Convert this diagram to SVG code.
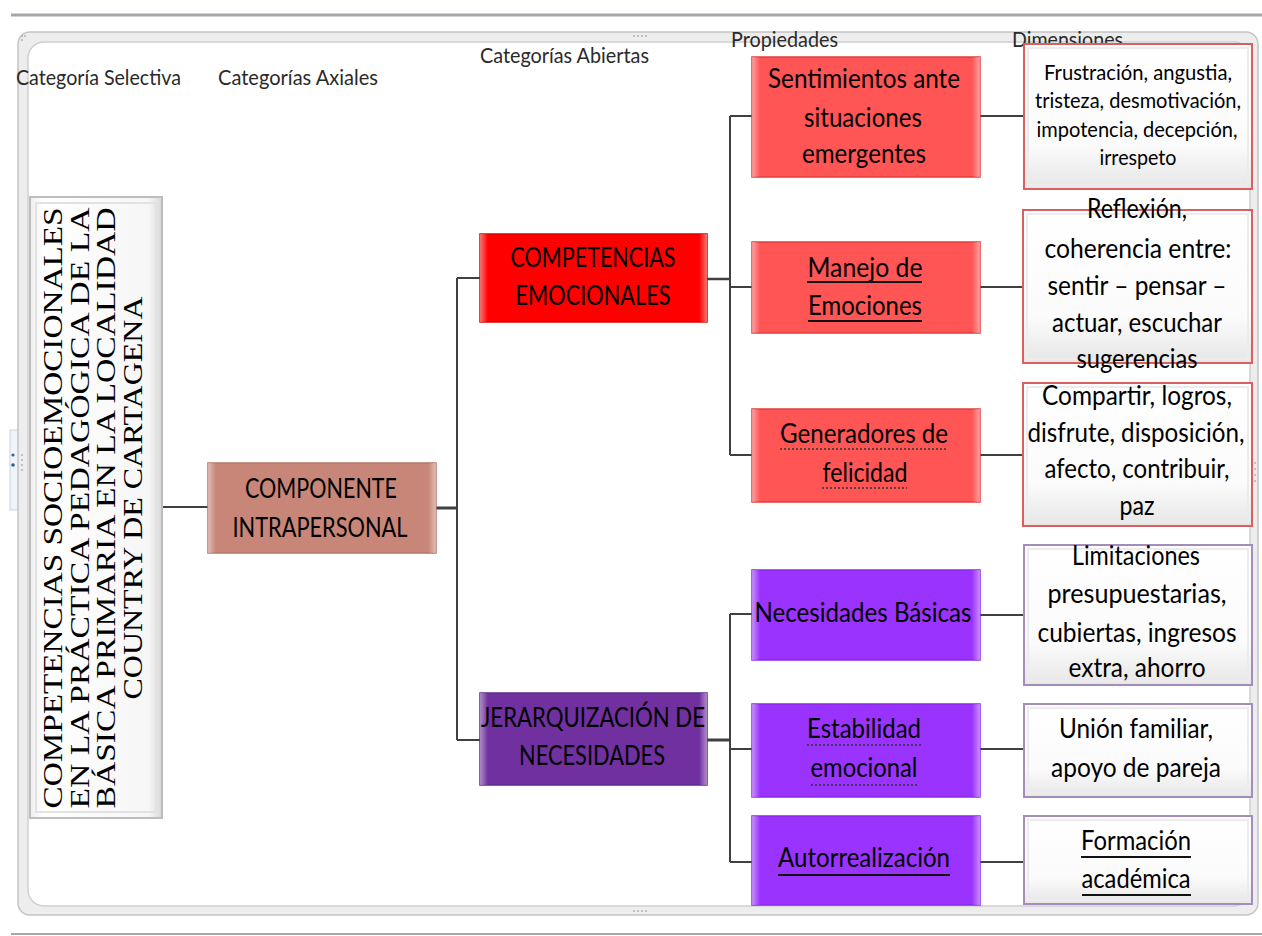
<svg xmlns="http://www.w3.org/2000/svg" width="1262" height="936" viewBox="0 0 1262 936">
<style>
.hdr{font-family:Lato,"Liberation Sans",sans-serif;font-size:22px;fill:#2a2a2a}
.t{font-family:Lato,"Liberation Sans",sans-serif;font-size:26px;fill:#000;text-anchor:middle}
.ts{font-size:21px}
.v{font-family:"Liberation Serif","Times New Roman",serif;font-size:27px;fill:#000;text-anchor:middle}
.conn{stroke:#404040;stroke-width:2;fill:none}
.ul{stroke:#111;stroke-width:2}
.dul{stroke:#333;stroke-width:1.5;stroke-dasharray:2 2}
.bev{fill:url(#bevH)}
.dimR{fill:url(#dimFill);stroke:#d9605e;stroke-width:2}
.dimP{fill:url(#dimFill);stroke:#a48cbd;stroke-width:2}
.inner{fill:none;stroke:#ececec;stroke-width:2}
</style>
<defs>
<linearGradient id="bevH" x1="0" y1="0" x2="1" y2="0">
<stop offset="0" stop-color="#fff" stop-opacity="0.45"/>
<stop offset="0.035" stop-color="#fff" stop-opacity="0"/>
<stop offset="0.965" stop-color="#fff" stop-opacity="0"/>
<stop offset="1" stop-color="#fff" stop-opacity="0.45"/>
</linearGradient>
<linearGradient id="dimFill" x1="0" y1="0" x2="0" y2="1">
<stop offset="0" stop-color="#ffffff"/>
<stop offset="0.7" stop-color="#fbfbfb"/>
<stop offset="1" stop-color="#e6e6e6"/>
</linearGradient>
<linearGradient id="vFill" x1="0" y1="0" x2="1" y2="0">
<stop offset="0" stop-color="#eeeeee"/>
<stop offset="0.1" stop-color="#ffffff"/>
<stop offset="0.9" stop-color="#f6f6f6"/>
<stop offset="1" stop-color="#d8d8d8"/>
</linearGradient>
</defs>

<!-- page lines -->
<line x1="11" y1="15" x2="1262" y2="15" stroke="#a4a8ad" stroke-width="3"/>
<line x1="11" y1="934" x2="1262" y2="934" stroke="#a4a8ad" stroke-width="2"/>

<!-- left tab -->
<rect x="10" y="430" width="16" height="80" fill="#eef4fa" stroke="#c8d4e0"/>
<circle cx="13" cy="455" r="1.6" fill="#2f5f9f"/>
<circle cx="13" cy="465" r="1.8" fill="#2f5f9f"/>

<!-- frame -->
<rect x="18" y="32" width="1240" height="883" rx="12" fill="#ededed" stroke="#c4c4c4" stroke-width="1.5"/>
<rect x="28" y="42" width="1222" height="864" rx="16" fill="#ffffff" stroke="#cfcfcf" stroke-width="1.5"/>
<g fill="#b0b0b0">
<circle cx="634" cy="36" r="1"/><circle cx="638" cy="36" r="1"/><circle cx="642" cy="36" r="1"/><circle cx="646" cy="36" r="1"/>
<circle cx="634" cy="911" r="1"/><circle cx="638" cy="911" r="1"/><circle cx="642" cy="911" r="1"/><circle cx="646" cy="911" r="1"/>
<circle cx="1255" cy="463" r="1"/><circle cx="1255" cy="469" r="1"/><circle cx="1255" cy="475" r="1"/><circle cx="1255" cy="481" r="1"/>
<circle cx="22" cy="455" r="1"/><circle cx="22" cy="460" r="1"/><circle cx="22" cy="465" r="1"/><circle cx="22" cy="470" r="1"/>
<circle cx="22" cy="36" r="1"/><circle cx="25" cy="36" r="1"/><circle cx="22" cy="40" r="1"/>
</g>

<!-- headers -->
<g id="headers">
<text class="hdr" x="16" y="85" textLength="165" lengthAdjust="spacingAndGlyphs">Categoría Selectiva</text>
<text class="hdr" x="218" y="85" textLength="160" lengthAdjust="spacingAndGlyphs">Categorías Axiales</text>
<text class="hdr" x="480" y="63" textLength="169" lengthAdjust="spacingAndGlyphs">Categorías Abiertas</text>
<text class="hdr" x="731" y="47" textLength="107" lengthAdjust="spacingAndGlyphs">Propiedades</text>
<text class="hdr" x="1012" y="47" textLength="111" lengthAdjust="spacingAndGlyphs">Dimensiones</text>
</g>

<!-- connectors -->
<g id="connectors" class="conn">
<path d="M162 507 H208"/>
<path d="M436 508 H457" stroke-width="3"/>
<path d="M457 278 V740 M457 278 H480 M457 740 H480"/>
<path d="M707 279 H730" stroke-width="2.5"/>
<path d="M730 116 V455 M730 116 H752 M730 287 H752 M730 455 H752"/>
<path d="M707 740 H730" stroke-width="3"/>
<path d="M730 614 V862 M730 614 H752 M730 749 H752 M730 862 H752"/>
<path d="M980 116 H1023 M980 287 H1023 M980 455 H1023 M980 615 H1024 M980 749 H1024 M980 862 H1024"/>
</g>

<!-- selective category -->
<g id="n-selectiva">
<rect x="30" y="197" width="132" height="621" fill="url(#vFill)" stroke="#bdbdbd" stroke-width="2"/>
<rect x="36" y="203" width="120" height="609" fill="none" stroke="#e2e2e2" stroke-width="2"/>
<text class="v" transform="translate(62,508) rotate(-90)" textLength="601" lengthAdjust="spacingAndGlyphs">COMPETENCIAS  SOCIOEMOCIONALES</text>
<text class="v" transform="translate(89,508) rotate(-90)" textLength="601" lengthAdjust="spacingAndGlyphs">EN LA PRÁCTICA PEDAGÓGICA  DE LA</text>
<text class="v" transform="translate(115,508) rotate(-90)" textLength="601" lengthAdjust="spacingAndGlyphs">BÁSICA PRIMARIA EN LA LOCALIDAD</text>
<text class="v" transform="translate(142,498) rotate(-90)" textLength="403" lengthAdjust="spacingAndGlyphs">COUNTRY DE CARTAGENA</text>
</g>

<!-- axial -->
<g id="n-componente">
<rect x="208" y="463" width="228" height="90" fill="#c88678" stroke="#b57668" stroke-width="1.5"/>
<rect x="208" y="463" width="228" height="90" class="bev"/>
<text class="t" x="321" y="498" textLength="152" lengthAdjust="spacingAndGlyphs">COMPONENTE</text>
<text class="t" x="320" y="537" textLength="175" lengthAdjust="spacingAndGlyphs">INTRAPERSONAL</text>
</g>

<!-- open categories -->
<g id="n-competencias">
<rect x="480" y="234" width="227" height="88" fill="#ff0000" stroke="#e00000" stroke-width="1.5"/>
<rect x="480" y="234" width="227" height="88" class="bev"/>
<text class="t" x="593" y="267" textLength="165" lengthAdjust="spacingAndGlyphs">COMPETENCIAS</text>
<text class="t" x="593" y="305" textLength="155" lengthAdjust="spacingAndGlyphs">EMOCIONALES</text>
</g>
<g id="n-jerarquizacion">
<rect x="480" y="693" width="227" height="92" fill="#7030a0" stroke="#60288c" stroke-width="1.5"/>
<rect x="480" y="693" width="227" height="92" class="bev"/>
<text class="t" x="593" y="727" textLength="224" lengthAdjust="spacingAndGlyphs">JERARQUIZACIÓN DE</text>
<text class="t" x="592" y="765" textLength="146" lengthAdjust="spacingAndGlyphs">NECESIDADES</text>
</g>

<!-- properties (red) -->
<g id="n-sentimientos">
<rect x="752" y="57" width="228" height="120" fill="#ff5555" stroke="#e03c3c" stroke-width="1.5"/>
<rect x="752" y="57" width="228" height="120" class="bev"/>
<text class="t" x="864" y="88" textLength="192" lengthAdjust="spacingAndGlyphs">Sentimientos  ante</text>
<text class="t" x="863" y="127" textLength="118" lengthAdjust="spacingAndGlyphs">situaciones</text>
<text class="t" x="864" y="163" textLength="124" lengthAdjust="spacingAndGlyphs">emergentes</text>
</g>
<g id="n-manejo">
<rect x="752" y="242" width="228" height="91" fill="#ff5555" stroke="#e03c3c" stroke-width="1.5"/>
<rect x="752" y="242" width="228" height="91" class="bev"/>
<text class="t" x="865" y="277" textLength="115" lengthAdjust="spacingAndGlyphs">Manejo de</text>
<text class="t" x="865" y="315" textLength="114" lengthAdjust="spacingAndGlyphs">Emociones</text>
<line class="ul" x1="807" y1="282" x2="922" y2="282"/>
<line class="ul" x1="808" y1="321" x2="922" y2="321"/>
</g>
<g id="n-generadores">
<rect x="752" y="409" width="228" height="93" fill="#ff5555" stroke="#e03c3c" stroke-width="1.5"/>
<rect x="752" y="409" width="228" height="93" class="bev"/>
<text class="t" x="864" y="443" textLength="168" lengthAdjust="spacingAndGlyphs">Generadores de</text>
<text class="t" x="865" y="482" textLength="85" lengthAdjust="spacingAndGlyphs">felicidad</text>
<line class="dul" x1="780" y1="449" x2="948" y2="449"/>
<line class="dul" x1="822" y1="488" x2="907" y2="488"/>
</g>

<!-- properties (purple) -->
<g id="n-necesidades">
<rect x="752" y="570" width="228" height="90" fill="#9b33ff" stroke="#8a2ae6" stroke-width="1.5"/>
<rect x="752" y="570" width="228" height="90" class="bev"/>
<text class="t" x="863" y="622" textLength="217" lengthAdjust="spacingAndGlyphs">Necesidades  Básicas</text>
</g>
<g id="n-estabilidad">
<rect x="752" y="704" width="228" height="93" fill="#9b33ff" stroke="#8a2ae6" stroke-width="1.5"/>
<rect x="752" y="704" width="228" height="93" class="bev"/>
<text class="t" x="864" y="738" textLength="114" lengthAdjust="spacingAndGlyphs">Estabilidad</text>
<text class="t" x="864" y="777" textLength="107" lengthAdjust="spacingAndGlyphs">emocional</text>
<line class="dul" x1="807" y1="745" x2="921" y2="745"/>
<line class="dul" x1="811" y1="785" x2="918" y2="785"/>
</g>
<g id="n-autorrealizacion">
<rect x="752" y="816" width="228" height="89" fill="#9b33ff" stroke="#8a2ae6" stroke-width="1.5"/>
<rect x="752" y="816" width="228" height="89" class="bev"/>
<text class="t" x="864" y="867" textLength="172" lengthAdjust="spacingAndGlyphs">Autorrealización</text>
<line class="ul" x1="778" y1="875" x2="950" y2="875"/>
</g>

<!-- dimensions -->
<g id="d-frustracion">
<rect class="dimR" x="1024" y="44" width="228" height="145"/>
<rect class="inner" x="1028" y="48" width="220" height="137"/>
<text class="t ts" x="1138" y="80" textLength="188" lengthAdjust="spacingAndGlyphs">Frustración, angustia,</text>
<text class="t ts" x="1138" y="108" textLength="206" lengthAdjust="spacingAndGlyphs">tristeza, desmotivación,</text>
<text class="t ts" x="1137" y="137" textLength="201" lengthAdjust="spacingAndGlyphs">impotencia, decepción,</text>
<text class="t ts" x="1138" y="165" textLength="77" lengthAdjust="spacingAndGlyphs">irrespeto</text>
</g>
<g id="d-reflexion">
<rect class="dimR" x="1023" y="210" width="229" height="153"/>
<rect class="inner" x="1027" y="214" width="221" height="145"/>
<text class="t" x="1137" y="218" textLength="100" lengthAdjust="spacingAndGlyphs">Reflexión,</text>
<text class="t" x="1138" y="258" textLength="187" lengthAdjust="spacingAndGlyphs">coherencia  entre:</text>
<text class="t" x="1137" y="295" textLength="179" lengthAdjust="spacingAndGlyphs">sentir – pensar –</text>
<text class="t" x="1137" y="332" textLength="170" lengthAdjust="spacingAndGlyphs">actuar, escuchar</text>
<text class="t" x="1137" y="368" textLength="121" lengthAdjust="spacingAndGlyphs">sugerencias</text>
</g>
<g id="d-compartir">
<rect class="dimR" x="1023" y="383" width="229" height="143"/>
<rect class="inner" x="1027" y="387" width="221" height="135"/>
<text class="t" x="1137" y="405" textLength="190" lengthAdjust="spacingAndGlyphs">Compartir, logros,</text>
<text class="t" x="1136" y="442" textLength="217" lengthAdjust="spacingAndGlyphs">disfrute, disposición,</text>
<text class="t" x="1137" y="478" textLength="185" lengthAdjust="spacingAndGlyphs">afecto, contribuir,</text>
<text class="t" x="1137" y="515" textLength="35" lengthAdjust="spacingAndGlyphs">paz</text>
</g>
<g id="d-limitaciones">
<rect class="dimP" x="1024" y="545" width="228" height="140"/>
<rect class="inner" x="1028" y="549" width="220" height="132"/>
<text class="t" x="1136" y="565" textLength="128" lengthAdjust="spacingAndGlyphs">Limitaciones</text>
<text class="t" x="1137" y="603" textLength="179" lengthAdjust="spacingAndGlyphs">presupuestarias,</text>
<text class="t" x="1137" y="642" textLength="199" lengthAdjust="spacingAndGlyphs">cubiertas, ingresos</text>
<text class="t" x="1137" y="677" textLength="137" lengthAdjust="spacingAndGlyphs">extra, ahorro</text>
</g>
<g id="d-union">
<rect class="dimP" x="1024" y="704" width="228" height="93"/>
<rect class="inner" x="1028" y="708" width="220" height="85"/>
<text class="t" x="1136" y="738" textLength="154" lengthAdjust="spacingAndGlyphs">Unión familiar,</text>
<text class="t" x="1136" y="777" textLength="170" lengthAdjust="spacingAndGlyphs">apoyo de pareja</text>
</g>
<g id="d-formacion">
<rect class="dimP" x="1024" y="816" width="228" height="88"/>
<rect class="inner" x="1028" y="820" width="220" height="80"/>
<text class="t" x="1136" y="850" textLength="110" lengthAdjust="spacingAndGlyphs">Formación</text>
<text class="t" x="1136" y="888" textLength="109" lengthAdjust="spacingAndGlyphs">académica</text>
<line class="ul" x1="1081" y1="857" x2="1191" y2="857"/>
<line class="ul" x1="1082" y1="895" x2="1191" y2="895"/>
</g>
</svg>
